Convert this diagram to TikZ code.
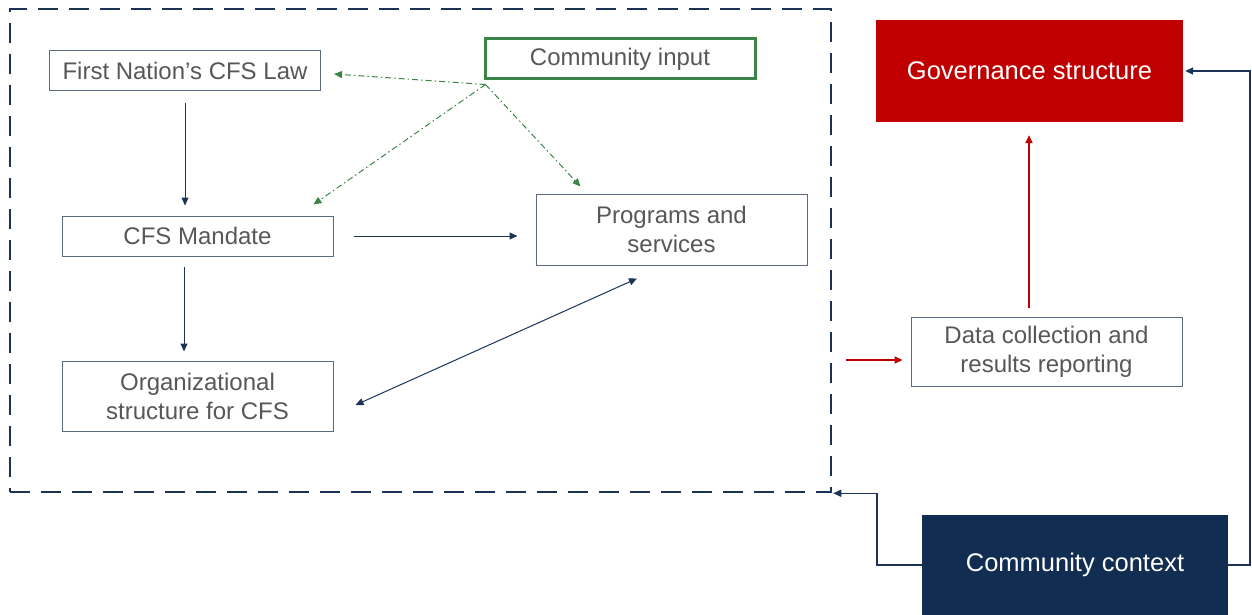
\documentclass[tikz,border=0pt]{standalone}
\usepackage{fontspec}
\setmainfont{Liberation Sans}
\usetikzlibrary{arrows.meta}
\definecolor{navy}{HTML}{1B3456}
\definecolor{ctxblue}{HTML}{122D52}
\definecolor{govred}{HTML}{C00000}
\definecolor{edge}{HTML}{5B6B82}
\definecolor{txtgray}{HTML}{575757}
\definecolor{cgreen}{HTML}{3A8447}
\begin{document}
\begin{tikzpicture}[x=1pt,y=-1pt,
  lbl/.style={font=\fontsize{24}{29}\selectfont, align=center, inner sep=0pt},
  box/.style={lbl, draw=edge, line width=1pt, text=txtgray, minimum width=271pt},
  solidbox/.style={lbl, text=white, font=\fontsize{25.5}{30}\selectfont},
  tip/.style={-{Triangle[length=8pt,width=7pt]}},
  flow/.style={tip, draw=navy, line width=1pt},
  both/.style={{Triangle[length=8pt,width=7pt]}-{Triangle[length=8pt,width=7pt]}, draw=navy, line width=1pt},
  input/.style={-{Triangle[length=8pt,width=7pt]}, draw=cgreen, line width=1pt,
     dash pattern=on 6pt off 3pt on 1.5pt off 3pt},
  report/.style={tip, draw=govred, line width=2pt},
  link/.style={tip, draw=navy, line width=1.5pt}
]
\useasboundingbox (0,0) rectangle (1252,615);

% dashed frame around the CFS components
\node[draw=navy, line width=2.5pt, dash pattern=on 20pt off 11pt,
      minimum width=821pt, minimum height=483pt, inner sep=0pt] (frame) at (420.5,250.5) {};

% boxes inside the frame
\node[box, minimum height=40pt] (law) at (185,71) {First Nation’s CFS Law};
\node[box, draw=cgreen, line width=3pt, minimum width=270pt, minimum height=40pt] (ci) at (620,59) {Community input};
\node[box, minimum height=40pt] (mandate) at (197.5,236) {CFS Mandate};
\node[box, minimum height=71pt] (prog) at (671.5,229.5) {Programs and\\services};
\node[box, minimum height=70pt] (org) at (197.5,396) {Organizational\\structure for CFS};

% boxes on the right
\node[solidbox, fill=govred, minimum width=307pt, minimum height=102pt] (gov) at (1029.5,71) {Governance structure};
\node[box, minimum height=69pt] (data) at (1046.5,351.5) {Data collection and\\results reporting};
\node[solidbox, fill=ctxblue, minimum width=306pt, minimum height=100pt] (cc) at (1075,565) {Community context};

% community input feeds three components
\coordinate (cio) at ([xshift=2pt,yshift=-4pt]ci.south west);
\draw[input] (cio) -- ([xshift=13pt,yshift=-3pt]law.east);
\draw[input] (cio) -- ([xshift=-20pt,yshift=11pt]mandate.north east);
\draw[input] (cio) -- ([xshift=45pt,yshift=7pt]prog.north west);

% flows between components
\draw[flow] ([yshift=-12pt]law.south) -- ([yshift=10pt]law.south |- mandate.north);
\draw[flow] ([xshift=-13.5pt,yshift=-10pt]mandate.south) -- ([xshift=-13.5pt,yshift=9pt]mandate.south |- org.north);
\draw[flow] ([xshift=20pt]mandate.east) -- ([xshift=-18pt]mandate.east -| prog.west);
\draw[both] ([xshift=22pt,yshift=-9pt]org.east) -- ([xshift=-34.5pt,yshift=-13pt]prog.south);

% reporting and governance
\coordinate (rs) at (846,360);
\draw[report] (rs) -- ([xshift=-8pt]rs -| data.west);
\draw[report] ([xshift=-17.5pt,yshift=9pt]data.north) -- ([xshift=-17.5pt,yshift=-13pt]data.north |- gov.south);

% community context influences governance and the frame
\draw[link] (cc.east) -- ++(22,0) |- ([xshift=2pt]gov.east);
\draw[link] (cc.west) -- ++(-45,0) |- ([xshift=1pt]frame.south east);
\end{tikzpicture}
\end{document}
